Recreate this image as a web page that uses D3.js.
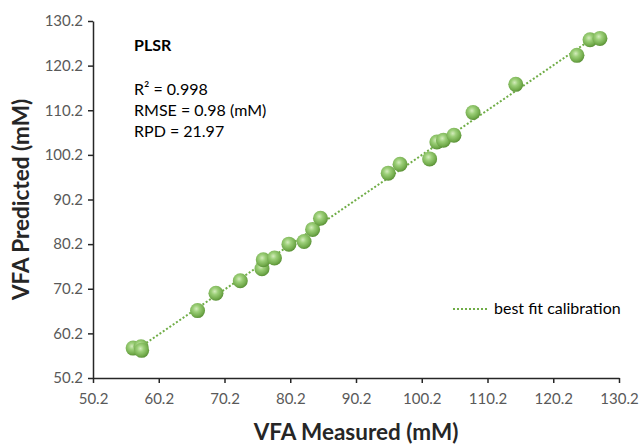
<!DOCTYPE html>
<html>
<head>
<meta charset="utf-8">
<script src="https://cdn.jsdelivr.net/npm/d3@7"></script>
<style>
  body { margin: 0; background: #fff; }
  text { font-family: Lato, "Open Sans", sans-serif; }
</style>
</head>
<body>
<svg id="chart"></svg>
<script>
// measured vs predicted VFA (mM)
const measured = [56.3, 57.5, 57.6, 66.1, 68.9, 72.6, 75.9, 76.1, 77.8, 80.0, 82.3, 83.6, 84.8,
  95.1, 96.9, 101.4, 102.5, 103.5, 105.1, 108.0, 114.5, 123.8, 125.8, 127.3];
const predicted = [56.9, 57.2, 56.4, 65.3, 69.2, 72.0, 74.7, 76.7, 77.1, 80.2, 80.8, 83.5, 86.0,
  96.1, 98.1, 99.3, 103.1, 103.5, 104.6, 109.7, 116.0, 122.5, 126.0, 126.3];
const tickValues = [50.2, 60.2, 70.2, 80.2, 90.2, 100.2, 110.2, 120.2, 130.2];
const statLines = ["R\u00b2 = 0.998", "RMSE = 0.98 (mM)", "RPD = 21.97"];

const width = 643, height = 444;
const margin = { top: 21, right: 24, bottom: 66, left: 93 };

const svg = d3.select("#chart").attr("width", width).attr("height", height);

const x = d3.scaleLinear().domain([50.2, 130.2]).range([margin.left, width - margin.right]);
const y = d3.scaleLinear().domain([50.2, 130.2]).range([height - margin.bottom, margin.top]);

// gradient for the shiny ball markers
const defs = svg.append("defs");
const grad = defs.append("radialGradient").attr("id", "ball")
  .attr("cx", "42%").attr("cy", "38%").attr("r", "62%");
grad.append("stop").attr("offset", "0%").attr("stop-color", "#d4ecbd");
grad.append("stop").attr("offset", "35%").attr("stop-color", "#9ccf78");
grad.append("stop").attr("offset", "80%").attr("stop-color", "#72ab4c");
grad.append("stop").attr("offset", "100%").attr("stop-color", "#5b9237");
defs.append("filter").attr("id", "soft")
  .append("feGaussianBlur").attr("stdDeviation", 0.5);

// axes
const xAxis = svg.append("g")
  .attr("transform", `translate(0,${y(50.2)})`)
  .call(d3.axisBottom(x).tickValues(tickValues).tickFormat(d3.format(".1f")).tickSize(5).tickSizeOuter(0));
const yAxis = svg.append("g")
  .attr("transform", `translate(${x(50.2)},0)`)
  .call(d3.axisLeft(y).tickValues(tickValues).tickFormat(d3.format(".1f")).tickSize(5).tickSizeOuter(0));

[xAxis, yAxis].forEach((g) => {
  g.select(".domain").attr("stroke", "#262626").attr("stroke-width", 1.5);
  g.selectAll(".tick line").attr("stroke", "#262626").attr("stroke-width", 1.5);
  g.selectAll(".tick text").attr("fill", "#595959").style("font-size", "15px");
});
xAxis.selectAll(".tick text").attr("dy", "1.2em");
yAxis.selectAll(".tick text").attr("x", -10);

// least squares fit line
const mx = d3.mean(measured), my = d3.mean(predicted);
const slope = d3.sum(measured, (d, i) => (d - mx) * (predicted[i] - my)) /
  d3.sum(measured, (d) => (d - mx) * (d - mx));
const intercept = my - slope * mx;
const [x0, x1] = d3.extent(measured);

svg.append("line")
  .attr("x1", x(x0)).attr("y1", y(intercept + slope * x0))
  .attr("x2", x(x1)).attr("y2", y(intercept + slope * x1))
  .attr("stroke", "#70ad47")
  .attr("stroke-width", 2)
  .attr("stroke-dasharray", "2 2");

// points
svg.append("g")
  .selectAll("circle")
  .data(measured)
  .enter()
  .append("circle")
  .attr("cx", (d) => x(d))
  .attr("cy", (d, i) => y(predicted[i]))
  .attr("r", 7.5)
  .attr("fill", "url(#ball)")
  .attr("filter", "url(#soft)");

// annotation
svg.append("text")
  .attr("x", 134).attr("y", 51)
  .style("font-size", "16px").style("font-weight", "bold")
  .attr("fill", "#000")
  .text("PLSR");
svg.append("g")
  .selectAll("text")
  .data(statLines)
  .enter()
  .append("text")
  .attr("x", 134)
  .attr("y", (d, i) => 95 + i * 20.8)
  .style("font-size", "16px")
  .attr("fill", "#000")
  .text((d) => d);

// legend
svg.append("line")
  .attr("x1", 453).attr("x2", 487).attr("y1", 309).attr("y2", 309)
  .attr("stroke", "#70ad47").attr("stroke-width", 2).attr("stroke-dasharray", "2 2");
svg.append("text")
  .attr("x", 494).attr("y", 314)
  .style("font-size", "16px").attr("fill", "#000")
  .text("best fit calibration");

// axis titles
svg.append("text")
  .attr("x", (x(50.2) + x(130.2)) / 2).attr("y", 440)
  .attr("text-anchor", "middle")
  .style("font-size", "22.5px").style("font-weight", "bold").attr("fill", "#262626")
  .text("VFA Measured (mM)");
svg.append("text")
  .attr("transform", `translate(29,${(y(50.2) + y(130.2)) / 2}) rotate(-90)`)
  .attr("text-anchor", "middle")
  .style("font-size", "22.5px").style("font-weight", "bold").attr("fill", "#262626")
  .text("VFA Predicted (mM)");
</script>
</body>
</html>
